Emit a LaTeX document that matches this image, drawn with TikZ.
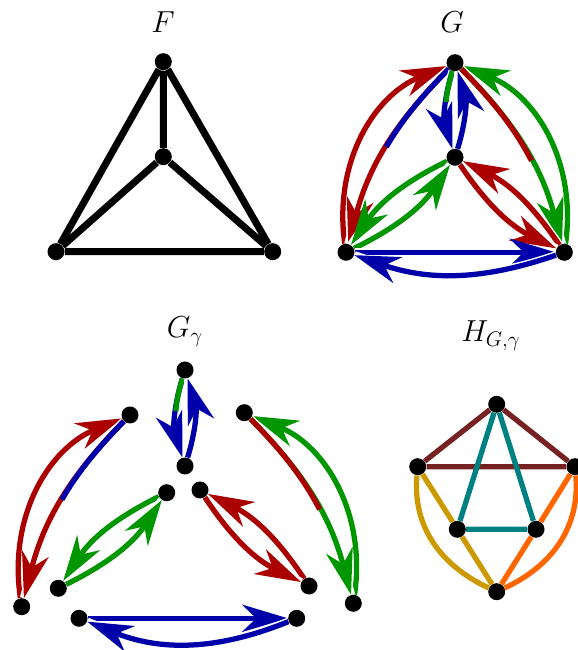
\documentclass[tikz,border=0pt]{standalone}
\usetikzlibrary{arrows.meta}
\definecolor{CRD}{RGB}{170,0,0}
\definecolor{CBL}{RGB}{0,0,170}
\definecolor{CGR}{RGB}{0,150,0}
\definecolor{CBR}{RGB}{119,34,34}
\definecolor{CTL}{RGB}{0,128,128}
\definecolor{CGD}{RGB}{204,153,0}
\definecolor{COR}{RGB}{255,102,0}

\begin{document}
\begin{tikzpicture}[
  vtx/.style={circle,fill=black,inner sep=0pt,minimum size=0.34cm},
  lbl/.style={font=\LARGE,anchor=base},
  fedge/.style={line width=4pt},
  hedge/.style={line width=3pt},
  darc/.style={line width=3pt,-{Stealth[length=26pt,width=15.5pt,inset=8pt]},
    preaction={draw=white,line width=4.6pt,-}},
  seg/.style={line width=3pt,dash pattern=on #1 off 2000pt}]
  \useasboundingbox (0.0000cm,0.0000cm) rectangle (11.5600cm,13.0000cm);
  % — F
  \node[lbl] (lF) at (3.2600cm,12.3400cm) {$F$};
  \node[vtx] (ft) at (3.2660cm,11.7660cm) {};
  \node[vtx] (fc) at (3.2660cm,9.8660cm) {};
  \node[vtx] (fl) at (1.1200cm,7.9660cm) {};
  \node[vtx] (fr) at (5.4540cm,7.9660cm) {};
  \draw[fedge] (ft) -- (fc) (ft) -- (fl) (ft) -- (fr)
    (fc) -- (fl) (fc) -- (fr) (fl) -- (fr);
  % — G
  \node[lbl] (lG) at (9.0400cm,12.3400cm) {$G$};
  \node[vtx] (gt) at (9.1000cm,11.7460cm) {};
  \node[vtx] (gc) at (9.1000cm,9.8540cm) {};
  \node[vtx] (gl) at (6.9200cm,7.9540cm) {};
  \node[vtx] (gr) at (11.2860cm,7.9540cm) {};
  \draw[darc,CRD] (gl) to[bend left=38] (gt);
  \draw[darc,CRD] (gt) to[bend right=15] (gl);
  \draw[seg=57pt,CBL] (gt) to[bend right=15] (gl);
  \draw[darc,CBL] (gt) to[bend right=17] (gc);
  \draw[seg=18pt,CGR] (gt) to[bend right=17] (gc);
  \draw[darc,CBL] (gc) to[bend right=17] (gt);
  \draw[darc,CGR] (gr) to[bend right=38] (gt);
  \draw[darc,CGR] (gt) to[bend left=15] (gr);
  \draw[seg=66pt,CRD] (gt) to[bend left=15] (gr);
  \draw[darc,CGR] (gc) to[bend right=15] (gl);
  \draw[darc,CGR] (gl) to[bend right=15] (gc);
  \draw[darc,CRD] (gr) to[bend right=15] (gc);
  \draw[darc,CRD] (gc) to[bend right=15] (gr);
  \draw[darc,CBL] (gl) -- (gr);
  \draw[darc,CBL] (gr) to[bend left=19] (gl);
  % — G gamma
  \node[lbl] (lGg) at (3.7000cm,6.2400cm) {$G_\gamma$};
  \node[vtx] (a1) at (2.6000cm,4.7000cm) {};
  \node[vtx] (a2) at (0.4340cm,0.8660cm) {};
  \node[vtx] (v1) at (3.7000cm,5.6000cm) {};
  \node[vtx] (v2) at (3.7000cm,3.6800cm) {};
  \node[vtx] (b1) at (4.8860cm,4.7460cm) {};
  \node[vtx] (b2) at (7.0660cm,0.9340cm) {};
  \node[vtx] (c1) at (3.3340cm,3.1460cm) {};
  \node[vtx] (c2) at (1.1660cm,1.2340cm) {};
  \node[vtx] (d1) at (4.0000cm,3.2000cm) {};
  \node[vtx] (d2) at (6.1800cm,1.2800cm) {};
  \node[vtx] (e1) at (1.5800cm,0.6340cm) {};
  \node[vtx] (e2) at (5.9340cm,0.6340cm) {};
  \draw[darc,CRD] (a2) to[bend left=38] (a1);
  \draw[darc,CRD] (a1) to[bend right=15] (a2);
  \draw[seg=57pt,CBL] (a1) to[bend right=15] (a2);
  \draw[darc,CBL] (v1) to[bend right=17] (v2);
  \draw[seg=19pt,CGR] (v1) to[bend right=17] (v2);
  \draw[darc,CBL] (v2) to[bend right=17] (v1);
  \draw[darc,CGR] (b2) to[bend right=38] (b1);
  \draw[darc,CGR] (b1) to[bend left=15] (b2);
  \draw[seg=65pt,CRD] (b1) to[bend left=15] (b2);
  \draw[darc,CGR] (c1) to[bend right=15] (c2);
  \draw[darc,CGR] (c2) to[bend right=15] (c1);
  \draw[darc,CRD] (d2) to[bend right=15] (d1);
  \draw[darc,CRD] (d1) to[bend right=15] (d2);
  \draw[darc,CBL] (e1) -- (e2);
  \draw[darc,CBL] (e2) to[bend left=22] (e1);
  % — H
  \node[lbl] (lH) at (9.8200cm,6.1600cm) {$H_{G,\gamma}$};
  \node[vtx] (ht) at (9.9340cm,4.9140cm) {};
  \node[vtx] (hl) at (8.3540cm,3.6660cm) {};
  \node[vtx] (hr) at (11.5000cm,3.6660cm) {};
  \node[vtx] (hil) at (9.1460cm,2.4140cm) {};
  \node[vtx] (hir) at (10.7200cm,2.4140cm) {};
  \node[vtx] (hb) at (9.9340cm,1.1660cm) {};
  \draw[hedge,CBR] (ht) -- (hl) (ht) -- (hr) (hl) -- (hr);
  \draw[hedge,CTL] (ht) -- (hil) (ht) -- (hir) (hil) -- (hir);
  \draw[hedge,CGD] (hl) -- (hil) (hil) -- (hb);
  \draw[hedge,CGD] (hl) to[out=-95,in=155] (hb);
  \draw[hedge,COR] (hr) -- (hir) (hir) -- (hb);
  \draw[hedge,COR] (hr) to[out=-85,in=25] (hb);
\end{tikzpicture}
\end{document}
